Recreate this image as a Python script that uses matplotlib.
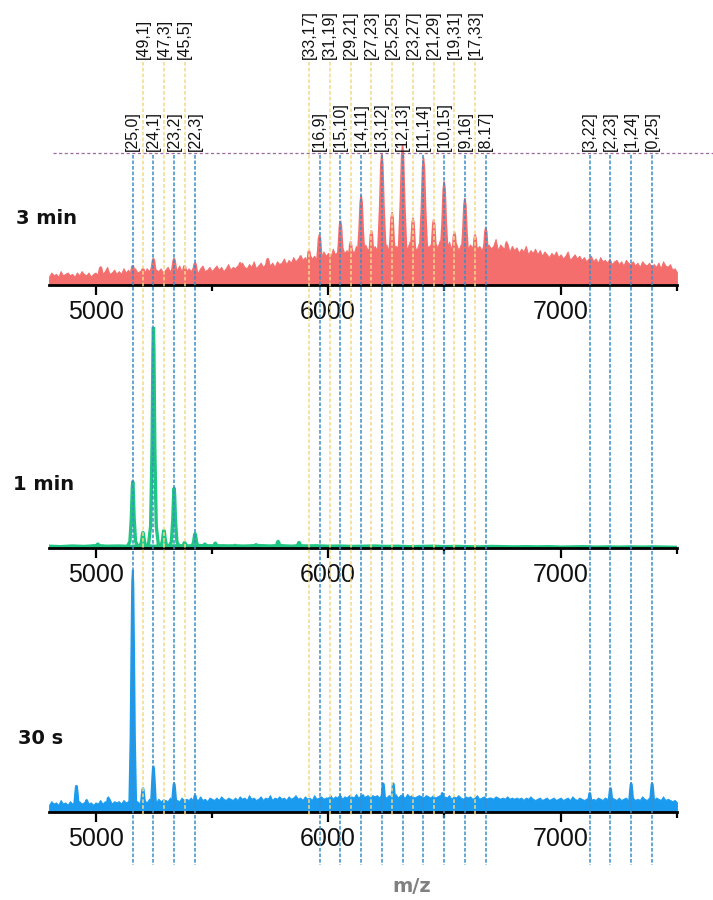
import numpy as np
import matplotlib
matplotlib.use("Agg")
import matplotlib.pyplot as plt
from matplotlib.lines import Line2D

plt.rcParams['font.family'] = ['Liberation Sans', 'DejaVu Sans']

# ---------------- data ----------------
MZ_MIN, MZ_MAX = 4800, 7500
major_ticks = [5000, 6000, 7000]
minor_ticks = [5500, 6500, 7500]

# [Ag, Au] compositions of the monomer series and their m/z
mono_labels = ["[25,0]", "[24,1]", "[23,2]", "[22,3]", "[16,9]", "[15,10]",
               "[14,11]", "[13,12]", "[12,13]", "[11,14]", "[10,15]", "[9,16]",
               "[8.17]", "[3,22]", "[2,23]", "[1,24]", "[0,25]"]
mono_mz = [5160, 5249, 5338, 5428, 5963, 6053, 6142, 6231, 6320, 6410, 6499,
           6588, 6678, 7125, 7214, 7303, 7393]

# [Ag, Au] compositions of the dimer series (doubly charged) and their m/z
dimer_labels = ["[49,1]", "[47,3]", "[45,5]", "[33,17]", "[31,19]", "[29,21]",
                "[27,23]", "[25,25]", "[23,27]", "[21,29]", "[19,31]", "[17,33]"]
dimer_mz = [5204, 5294, 5383, 5918, 6007, 6097, 6186, 6275, 6365, 6454, 6543, 6632]

panel_names = ["3 min", "1 min", "30 s"]

# 3 min spectrum: background level every 10 m/z (relative intensity, %)
red_base_step = 10
red_base = [6, 9, 7, 8, 6, 10, 7, 8, 9, 7,
            8, 6, 9, 7, 10, 8, 7, 9, 6, 8,
            9, 7, 11, 8, 10, 13, 8, 9, 11, 8,
            10, 8, 12, 9, 11, 8, 10, 12, 9, 10,
            11, 9, 12, 10, 13, 9, 11, 10, 12, 9,
            11, 13, 10, 12, 9, 11, 14, 10, 12, 10,
            12, 10, 13, 11, 9, 12, 14, 10, 11, 13,
            10, 12, 14, 11, 13, 10, 12, 15, 11, 13,
            12, 14, 11, 16, 13, 12, 15, 13, 17, 12,
            14, 16, 13, 15, 19, 14, 16, 13, 17, 15,
            16, 19, 15, 18, 16, 20, 17, 19, 21, 18,
            20, 17, 22, 19, 21, 18, 23, 20, 24, 21,
            23, 20, 26, 22, 24, 21, 27, 23, 25, 22,
            26, 23, 28, 24, 27, 22, 29, 25, 27, 24,
            28, 25, 30, 24, 27, 29, 25, 31, 26, 28,
            27, 30, 25, 29, 26, 31, 27, 28, 25, 30,
            28, 26, 31, 27, 29, 25, 30, 27, 32, 26,
            29, 27, 31, 26, 28, 30, 25, 29, 27, 30,
            26, 29, 27, 31, 26, 28, 25, 30, 27, 29,
            26, 28, 33, 25, 29, 27, 26, 30, 24, 28,
            25, 27, 23, 26, 24, 28, 22, 25, 23, 26,
            22, 25, 21, 24, 22, 20, 23, 21, 24, 20,
            22, 19, 21, 24, 18, 20, 22, 19, 21, 18,
            20, 17, 19, 21, 17, 19, 16, 20, 17, 18,
            16, 19, 15, 17, 18, 15, 17, 14, 18, 16,
            15, 17, 14, 16, 13, 17, 15, 14, 16, 13,
            15, 13, 16, 12, 17, 14, 13, 15, 11, 12,
            9]
red_peak_mz = [5022, 5160, 5204, 5249, 5294, 5338, 5383, 5428, 5622, 5740, 5882,
               5918, 5963, 6007, 6053, 6097, 6142, 6186, 6231, 6275, 6320,
               6365, 6410, 6454, 6499, 6543, 6588, 6632, 6678, 6720, 6767]
red_peak_int = [13, 14, 12, 19, 9, 19, 14, 16, 16, 19, 21,
                25, 36, 22, 46, 31, 64, 39, 94, 52, 100,
                48, 91, 47, 74, 38, 62, 36, 41, 28, 31]

# 1 min spectrum: baseline every 50 m/z and peak list (%)
green_base_step = 50
green_base = [0.8, 0.6, 0.9, 0.7, 1.0, 0.8, 0.9, 0.7, 1.1, 0.8,
              0.9, 1.0, 0.8, 1.1, 0.9, 1.0, 0.8, 0.9, 1.1, 0.9,
              1.0, 0.8, 0.9, 1.0, 0.8, 0.9, 0.7, 0.8, 0.9, 0.7,
              0.8, 0.6, 0.7, 0.8, 0.6, 0.7, 0.6, 0.5, 0.7, 0.6,
              0.5, 0.6, 0.5, 0.6, 0.4, 0.5, 0.6, 0.4, 0.5, 0.4,
              0.5, 0.4, 0.5, 0.4, 0.3]
green_peak_mz = [5010, 5160, 5204, 5249, 5294, 5338, 5383, 5428, 5470, 5515,
                 5600, 5690, 5785, 5875]
green_peak_int = [1.8, 30, 7, 100, 8, 27, 2.5, 6.5, 1.8, 2.2,
                  1.2, 1.5, 3.0, 2.5]

# 30 s spectrum: background every 10 m/z and peak list (%)
blue_base_step = 10
blue_base = [3, 4.5, 3.5, 4, 3, 5, 3.5, 4, 3, 4.5,
             3.5, 4, 3, 4.5, 3.5, 4, 5, 3.5, 4, 3,
             4, 3.5, 5, 3.5, 4.5, 4, 5.5, 3.5, 4.5, 4,
             4.5, 3.5, 5, 4, 4.5, 5, 3.5, 4, 4.5, 3.5,
             4.5, 5, 4, 5.5, 4.5, 5, 4, 5.5, 4.5, 5,
             5, 4.5, 6, 4.5, 5.5, 5, 4.5, 6, 5, 5.5,
             5, 6, 4.5, 5.5, 5, 6.5, 5, 5.5, 4.5, 6,
             5.5, 5, 6, 5, 6.5, 5.5, 5, 6, 5.5, 5,
             6, 5, 6.5, 5.5, 6, 5, 7, 5.5, 6, 5,
             5.5, 6.5, 5, 6, 5.5, 7, 5, 6, 5.5, 6.5,
             5.5, 6, 5, 6.5, 5.5, 6, 7, 5.5, 6, 5,
             6.5, 5.5, 6, 5, 7, 5.5, 6, 6.5, 5.5, 6,
             6, 7, 5.5, 6.5, 6, 7.5, 5.5, 6.5, 6, 7,
             6.5, 6, 7.5, 6, 7, 6, 6.5, 7, 6, 7,
             6.5, 7, 6, 7.5, 6.5, 6, 7, 6.5, 6, 7.5,
             6, 7, 6.5, 6, 7.5, 6.5, 7, 6, 6.5, 7,
             6.5, 6, 7, 6.5, 6, 7, 6, 6.5, 7, 6,
             6.5, 6, 7, 5.5, 6.5, 6, 7, 6, 5.5, 6.5,
             6, 6.5, 5.5, 6, 7, 5.5, 6, 6.5, 5.5, 6,
             6, 5.5, 6.5, 6, 5.5, 6, 5.5, 6.5, 5.5, 6,
             5.5, 6, 5.5, 6, 5, 6, 5.5, 6.5, 5.5, 5,
             5.5, 6, 5, 5.5, 6, 5, 5.5, 6, 5, 5.5,
             6, 5, 5.5, 6, 5, 6.5, 5.5, 5, 6, 5.5,
             5, 5.5, 6, 5, 5.5, 5, 6, 5.5, 5, 6,
             5.5, 5, 6, 5.5, 5, 6, 5, 5.5, 6, 5,
             5.5, 6, 5, 5.5, 5, 6.5, 5.5, 5, 6, 5.5,
             5, 6, 5.5, 5, 6.5, 5, 5.5, 5, 4.5, 5,
             4]
blue_peak_mz = [4918, 4962, 5055, 5160, 5204, 5249, 5294, 5338, 5428,
                6150, 6190, 6237, 6280, 6320, 6491, 7125, 7214, 7303, 7393]
blue_peak_int = [11, 5, 6, 100, 10, 19, 5, 12, 7,
                 7, 6, 12, 12, 7, 8, 8, 10, 12, 12]

# ---------------- layout (pixels) ----------------
W, H = 713, 900
AX_L, AX_R = 49, 677
panel_px = [(285, 140), (548, 221), (812, 242)]   # (axis baseline, height of 100 %)
colors = ["#f46e6e", "#1fc583", "#1a9bef"]
label_pos = [(16, 218), (13, 485), (18, 738)]

fig = plt.figure(figsize=(W / 100, H / 100), dpi=100)


def add_panel(base_px, height_px):
    ax = fig.add_axes([AX_L / W, 1 - base_px / H, (AX_R - AX_L) / W, height_px / H])
    ax.set_xlim(MZ_MIN, MZ_MAX)
    ax.set_ylim(0, 100)
    for s in ("top", "right", "left"):
        ax.spines[s].set_visible(False)
    ax.spines["bottom"].set_linewidth(2)
    ax.set_yticks([])
    ax.set_xticks(major_ticks)
    ax.set_xticks(minor_ticks, minor=True)
    ax.tick_params(axis="x", which="major", length=7.5, width=1.6, pad=3,
                   labelsize=18, labelcolor="#111111")
    ax.tick_params(axis="x", which="minor", length=4, width=1.6)
    ax.patch.set_alpha(0)
    return ax


# relative peak profiles (m/z offset, fraction of peak height)
sharp_off = np.array([-28, -16, -9, -4, 0, 4, 9, 16, 28])
sharp_frac = np.array([0, .3, .6, .92, 1, .92, .6, .3, 0])
narrow_off = np.array([-16, -10, -6, -3, 0, 3, 6, 10, 16])
narrow_frac = np.array([0, .3, .7, .95, 1, .95, .7, .3, 0])
round_off = np.array([-22, -12, -6, -2, 0, 2, 6, 12, 22])
round_frac = np.array([0, .1, .45, .9, 1, .9, .45, .1, 0])


def draw_filled(ax, base, step, pk_mz, pk_int, color, off, frac):
    mz = MZ_MIN + step * np.arange(len(base))
    ax.fill_between(mz, 0, base, color=color, lw=0.6, edgecolor=color)
    for c, h in zip(pk_mz, pk_int):
        ax.fill(c + off, h * frac, color=color, lw=1.2, edgecolor=color)


def draw_line(ax, base, step, pk_mz, pk_int, color, off, frac):
    mz = MZ_MIN + step * np.arange(len(base))
    ax.plot(mz, base, color=color, lw=2.4, solid_joinstyle="round")
    for c, h in zip(pk_mz, pk_int):
        ax.plot(c + off, np.maximum(h * frac, 0.8), color=color, lw=2.4,
                solid_joinstyle="round", solid_capstyle="round")


ax_top = add_panel(*panel_px[0])
draw_filled(ax_top, red_base, red_base_step, red_peak_mz, red_peak_int,
            colors[0], sharp_off, sharp_frac)

ax_mid = add_panel(*panel_px[1])
draw_line(ax_mid, green_base, green_base_step, green_peak_mz, green_peak_int,
          colors[1], round_off, round_frac)

ax_bot = add_panel(*panel_px[2])
draw_filled(ax_bot, blue_base, blue_base_step, blue_peak_mz, blue_peak_int,
            colors[2], narrow_off, narrow_frac)

# overlay for assignment lines, drawn in m/z vs. figure-pixel coordinates
ov = fig.add_axes([AX_L / W, 0, (AX_R - AX_L) / W, 1])
ov.set_xlim(MZ_MIN, MZ_MAX)
ov.set_ylim(H, 0)
ov.axis("off")
ov.patch.set_alpha(0)

ov.vlines(dimer_mz, 62, 815, colors="#f3d886", linewidth=1.1,
          linestyles=(0, (2.4, 1.4)))
ov.vlines(mono_mz, 155, 865, colors="#3b8ec8", linewidth=1.1,
          linestyles=(0, (2.4, 1.2)))

for m, lab in zip(dimer_mz, dimer_labels):
    ov.text(m, 59, lab, rotation=90, ha="center", va="bottom", fontsize=11.5,
            color="#111111")
for m, lab in zip(mono_mz, mono_labels):
    ov.text(m, 151, lab, rotation=90, ha="center", va="bottom", fontsize=11.5,
            color="#111111")

fig.add_artist(Line2D([53 / W, 1.0], [1 - 153 / H] * 2, transform=fig.transFigure,
                      color="#9c6a9e", lw=0.9, linestyle=(0, (2.5, 2))))

for name, (x, y) in zip(panel_names, label_pos):
    fig.text(x / W, 1 - y / H, name, fontsize=14, fontweight="bold",
             family="DejaVu Sans", ha="left", va="center", color="#111111")

fig.text(412 / W, 1 - 887 / H, "m/z", fontsize=14, fontweight="bold",
         family="DejaVu Sans", ha="center", va="center", color="#808080")

fig.savefig("out.png", dpi=100)
